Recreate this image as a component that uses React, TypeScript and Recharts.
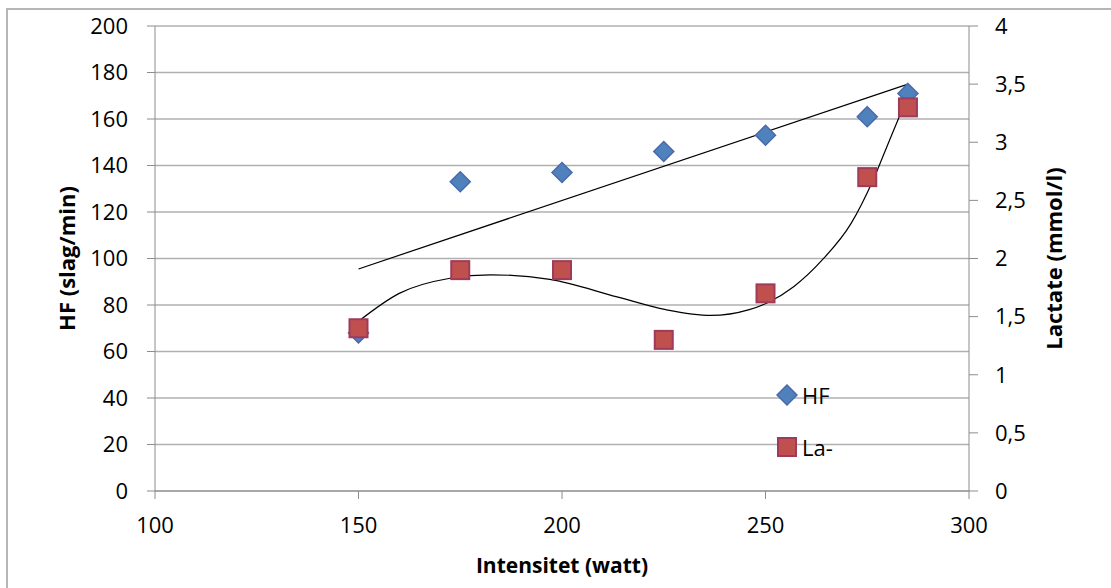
import React from 'react';
import {
  ComposedChart,
  Scatter,
  Line,
  XAxis,
  YAxis,
  CartesianGrid,
  Legend,
  Label,
} from 'recharts';

// watt steps
const intensity = [150, 175, 200, 225, 250, 275, 285];
// heart rate (slag/min)
const hfValues = [68, 133, 137, 146, 153, 161, 171];
// lactate (mmol/l)
const laValues = [1.4, 1.9, 1.9, 1.3, 1.7, 2.7, 3.3];

// trendlines
const hfTrendX = [150, 285];
const hfTrendY = [95.5, 175];
const laTrendX = [150, 160, 172.5, 182.5, 197, 213.5, 225.5, 236.5, 246, 250.5, 257, 264, 271, 276.5, 280.5, 285];
const laTrendY = [1.46, 1.7, 1.83, 1.86, 1.82, 1.67, 1.56, 1.51, 1.56, 1.62, 1.76, 1.99, 2.3, 2.68, 3.02, 3.4];

const xTicks = [100, 150, 200, 250, 300];
const hfTicks = [0, 20, 40, 60, 80, 100, 120, 140, 160, 180, 200];
const laTicks = [0, 0.5, 1, 1.5, 2, 2.5, 3, 3.5, 4];

const FONT = '"Open Sans", sans-serif';
const AXIS_GRAY = '#8c8c8c';
const BLUE = '#4f81bd';
const BLUE_EDGE = '#4a6aa8';
const RED = '#c0504d';
const RED_EDGE = '#9e3a5c';

const hfData = intensity.map((x, i) => ({ x, y: hfValues[i] }));
const laData = intensity.map((x, i) => ({ x, y: laValues[i] }));
const hfTrend = hfTrendX.map((x, i) => ({ x, y: hfTrendY[i] }));
const laTrend = laTrendX.map((x, i) => ({ x, y: laTrendY[i] }));

const Diamond = ({ cx, cy }: any) => (
  <polygon
    points={`${cx},${cy - 10} ${cx + 10},${cy} ${cx},${cy + 10} ${cx - 10},${cy}`}
    fill={BLUE}
    stroke={BLUE_EDGE}
    strokeWidth={1.5}
  />
);

const Square = ({ cx, cy }: any) => (
  <rect x={cx - 9} y={cy - 9} width={18} height={18} fill={RED} stroke={RED_EDGE} strokeWidth={2} />
);

const tickStyle = { fontFamily: FONT, fontSize: 22, fill: '#000' };

const renderLegend = () => (
  <div style={{ fontFamily: FONT, fontSize: 22, color: '#000', lineHeight: '26px' }}>
    <div style={{ display: 'flex', alignItems: 'center', height: 26 }}>
      <svg width={22} height={22} style={{ marginRight: 4 }}>
        <polygon points="11,1 21,11 11,21 1,11" fill={BLUE} stroke={BLUE_EDGE} strokeWidth={1.5} />
      </svg>
      <span>HF</span>
    </div>
    <div style={{ display: 'flex', alignItems: 'center', height: 26, marginTop: 26 }}>
      <svg width={22} height={22} style={{ marginRight: 4 }}>
        <rect x={2} y={2} width={18} height={18} fill={RED} stroke={RED_EDGE} strokeWidth={2} />
      </svg>
      <span>La-</span>
    </div>
  </div>
);

export default function App() {
  return (
    <div style={{ position: 'fixed', left: 0, top: 0, width: 1111, height: 588, overflow: 'hidden', background: '#fff' }}>
      <div style={{ position: 'absolute', left: 0, top: 0 }}>
        <ComposedChart width={1111} height={588} margin={{ top: 26, right: 0, bottom: 0, left: 0 }}>
          <CartesianGrid yAxisId="hf" vertical={false} stroke="#b0b0b0" strokeWidth={1.5} />
          <XAxis
            type="number"
            dataKey="x"
            domain={[100, 300]}
            ticks={xTicks}
            allowDataOverflow
            height={97}
            stroke={AXIS_GRAY}
            tickSize={8}
            tickMargin={18}
            tick={tickStyle}
          >
            <Label
              content={({ viewBox }: any) => (
                <text
                  x={viewBox.x + viewBox.width / 2}
                  y={viewBox.y + 82}
                  textAnchor="middle"
                  fontFamily={FONT}
                  fontSize={21}
                  fontWeight="bold"
                  fill="#000"
                >
                  Intensitet (watt)
                </text>
              )}
            />
          </XAxis>
          <YAxis
            yAxisId="hf"
            dataKey="y"
            type="number"
            domain={[0, 200]}
            ticks={hfTicks}
            width={155}
            stroke={AXIS_GRAY}
            tickSize={8}
            tickMargin={19}
            tick={tickStyle}
          >
            <Label
              content={({ viewBox }: any) => {
                const x = 75;
                const y = viewBox.y + viewBox.height / 2;
                return (
                  <text
                    x={x}
                    y={y}
                    transform={`rotate(-90 ${x} ${y})`}
                    textAnchor="middle"
                    fontFamily={FONT}
                    fontSize={22}
                    fontWeight="bold"
                    fill="#000"
                  >
                    HF (slag/min)
                  </text>
                );
              }}
            />
          </YAxis>
          <YAxis
            yAxisId="la"
            orientation="right"
            dataKey="y"
            type="number"
            domain={[0, 4]}
            ticks={laTicks}
            width={142}
            stroke={AXIS_GRAY}
            tickSize={9}
            tickMargin={17}
            tick={tickStyle}
            tickFormatter={(v: number) => String(v).replace('.', ',')}
          >
            <Label
              content={({ viewBox }: any) => {
                const x = viewBox.x + 93;
                const y = viewBox.y + viewBox.height / 2;
                return (
                  <text
                    x={x}
                    y={y}
                    transform={`rotate(-90 ${x} ${y})`}
                    textAnchor="middle"
                    fontFamily={FONT}
                    fontSize={22}
                    fontWeight="bold"
                    fill="#000"
                  >
                    Lactate (mmol/l)
                  </text>
                );
              }}
            />
          </YAxis>
          <Scatter name="HF" yAxisId="hf" data={hfData} shape={<Diamond />} isAnimationActive={false} />
          <Scatter name="La-" yAxisId="la" data={laData} shape={<Square />} isAnimationActive={false} />
          <Line
            yAxisId="hf"
            data={hfTrend}
            dataKey="y"
            type="linear"
            stroke="#000"
            strokeWidth={1.2}
            dot={false}
            activeDot={false}
            isAnimationActive={false}
            legendType="none"
          />
          <Line
            yAxisId="la"
            data={laTrend}
            dataKey="y"
            type="monotone"
            stroke="#000"
            strokeWidth={1.2}
            dot={false}
            activeDot={false}
            isAnimationActive={false}
            legendType="none"
          />
          <Legend
            layout="vertical"
            align="center"
            verticalAlign="middle"
            content={renderLegend}
            wrapperStyle={{ position: 'absolute', left: 776, top: 382, width: 80, height: 80 }}
          />
        </ComposedChart>
      </div>
      <div
        style={{
          position: 'absolute',
          left: 6,
          top: 8,
          width: 1120,
          height: 600,
          boxSizing: 'border-box',
          borderTop: '2px solid #b5b5b5',
          borderLeft: '2px solid #b5b5b5',
          pointerEvents: 'none',
        }}
      />
    </div>
  );
}
